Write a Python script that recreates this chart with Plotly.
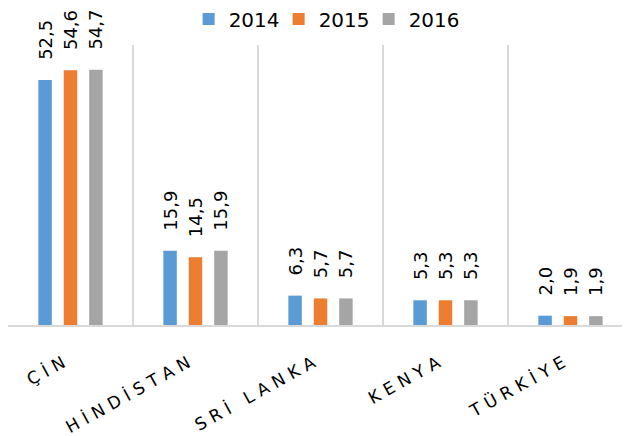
import plotly.graph_objects as go

categories = ["ÇİN", "HİNDİSTAN", "SRİ LANKA", "KENYA", "TÜRKİYE"]
years = ["2014", "2015", "2016"]
values_2014 = [52.5, 15.9, 6.3, 5.3, 2.0]
values_2015 = [54.6, 14.5, 5.7, 5.3, 1.9]
values_2016 = [54.7, 15.9, 5.7, 5.3, 1.9]
colors = ["#5B9BD5", "#ED7D31", "#A5A5A5"]

series = [values_2014, values_2015, values_2016]

def fmt(v):
    return "\u00a0\u00a0\u00a0" + f"{v:.1f}".replace(".", ",")

def spaced(s):
    return "\u2004".join(list(s))

fig = go.Figure()
for name, vals, col in zip(years, series, colors):
    fig.add_trace(go.Bar(
        name=name, x=categories, y=vals,
        marker=dict(color=col, line=dict(width=0)),
        text=[fmt(v) for v in vals],
        textposition="outside", textangle=-90,
        constraintext="none", cliponaxis=False,
        textfont=dict(family="DejaVu Sans", size=18, color="#000000"),
    ))

fig.update_layout(
    width=625, height=428,
    margin=dict(l=0, r=0, t=37, b=111, autoexpand=False),
    paper_bgcolor="white", plot_bgcolor="white",
    barmode="group", bargap=0.39, bargroupgap=0.47,
    showlegend=True,
    legend=dict(orientation="h", x=0.505, xanchor="center", y=1.093, yref="paper",
                yanchor="middle", font=dict(family="DejaVu Sans", size=20, color="#000000"),
                traceorder="normal", entrywidth=45, entrywidthmode="pixels"),
    font=dict(family="DejaVu Sans", color="#000000"),
)
fig.update_xaxes(
    tickmode="array", tickvals=categories, ticktext=[spaced(c) for c in categories],
    tickangle=-29, tickson="boundaries", ticks="", ticklabelstandoff=20,
    ticklabelshift=-8,
    automargin=False,
    showgrid=True, gridcolor="#D9D9D9", gridwidth=1.5,
    showline=True, linecolor="#D9D9D9", linewidth=1.5,
    tickfont=dict(family="DejaVu Sans", size=17, color="#000000"),
)
fig.update_yaxes(range=[0, 60], visible=False, showgrid=False, zeroline=False,
                 automargin=False)

fig.write_html("out.html")
